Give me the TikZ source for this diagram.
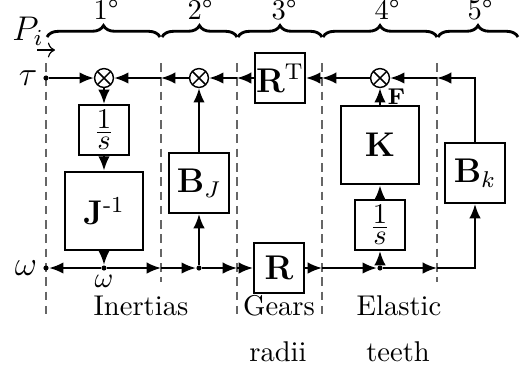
\documentclass[tikz,border=0pt]{standalone}
\usepackage{amsmath}
\usetikzlibrary{arrows.meta,decorations.pathreplacing}
\begin{document}
\begin{tikzpicture}[x=0.35pt,y=-0.35pt,
	arr/.style={line width=0.7pt,-{Latex[length=5pt,width=4pt]}},
	blk/.style={draw,line width=0.7pt,inner sep=0pt,minimum size=17.5pt},
	midblk/.style={blk,minimum size=21pt},
	bigblk/.style={blk,minimum size=27.6pt},
	sumnode/.style={draw,circle,line width=0.5pt,inner sep=0pt,minimum size=6.6pt,
		path picture={\draw[line width=0.5pt](path picture bounding box.south east)--(path picture bounding box.north west)
			(path picture bounding box.south west)--(path picture bounding box.north east);}},
	dotnode/.style={circle,fill,inner sep=0pt,minimum size=1.8pt},
	sep/.style={gray!80!black,line width=0.5pt,dash pattern=on 3pt off 2pt},
	brc/.style={decorate,decoration={brace,amplitude=4pt},line width=1pt},
	deg/.style={anchor=base,inner sep=0pt}]
	\useasboundingbox(0,0)rectangle(521,371);
	\draw[sep](46,63)--(46,318);
	\draw[sep](161,63)--(161,282);
	\draw[sep](237,63)--(237,318);
	\draw[sep](322,63)--(322,318);
	\draw[sep](437,63)--(437,282);
	\draw[brc](47,37)--(160,37);
	\draw[brc](162,37)--(237,37);
	\draw[brc](238,37)--(322,37);
	\draw[brc](323,37)--(437,37);
	\draw[brc](438,37)--(518,37);
	\node[deg](d1) at(106,19){1\textdegree};
	\node[deg](d2) at(200,19){2\textdegree};
	\node[deg](d3) at(284,19){3\textdegree};
	\node[deg](d4) at(387,19){4\textdegree};
	\node[deg](d5) at(480,19){5\textdegree};
	\node[deg](pin) at(28,40){\large$P_i$};
	\coordinate(pa) at(37,50);
	\coordinate(pb) at(55,50);
	\draw[->](pa)--(pb);
	\node(tau) at(28,78){\large$\tau$};
	\node(om) at(26,268){\large$\omega$};
	\node[dotnode](tau0) at(46,78){};
	\node[dotnode](om0) at(46,268){};
	\node[dotnode](w1) at(104,268){};
	\node[dotnode](w2) at(199,268){};
	\node[dotnode](w3) at(380,268){};
	\node(omw) at(104,281){$\omega$};
	\node[sumnode](s1) at(104,78){};
	\node[sumnode](s2) at(199,78){};
	\node[sumnode](s3) at(380,78){};
	\node[blk](int1) at(104,130){$\frac{\displaystyle 1}{\displaystyle s}$};
	\node[bigblk](jinv) at(104,211){\large$\mathbf{J}^{\text{-}1}$};
	\node[midblk](bj) at(199,183){\large$\mathbf{B}_J$};
	\node[blk](rt) at(280,78){\large$\mathbf{R}^{\mathrm{T}}$};
	\node[blk](r) at(279,268){\large$\mathbf{R}$};
	\node[bigblk](k) at(380,145){\large$\mathbf{K}$};
	\node[blk](int2) at(380,225){$\frac{\displaystyle 1}{\displaystyle s}$};
	\node[midblk](bk) at(475,173){\large$\mathbf{B}_k$};
	\coordinate(c2t) at(161,78);
	\coordinate(c3t) at(237,78);
	\coordinate(c4t) at(322,78);
	\coordinate(c5t) at(437,78);
	\coordinate(c2b) at(161,268);
	\coordinate(c3b) at(237,268);
	\coordinate(c4b) at(322,268);
	\coordinate(c5b) at(437,268);
	\draw[arr](tau0)--(s1);
	\draw[arr](c2t)--(s1);
	\draw[arr](s2)--(c2t);
	\draw[arr](c3t)--(s2);
	\draw[arr](rt)--(c3t);
	\draw[arr](c4t)--(rt);
	\draw[arr](s3)--(c4t);
	\draw[arr](c5t)--(s3);
	\draw[arr](bk)|-(c5t);
	\draw[arr](w1)--(om0);
	\draw[arr](w1)--(c2b);
	\draw[arr](c2b)--(w2);
	\draw[arr](w2)--(c3b);
	\draw[arr](c3b)--(r);
	\draw[arr](r)--(c4b);
	\draw[arr](c4b)--(w3);
	\draw[arr](w3)--(c5b);
	\draw[arr](c5b)-|(bk);
	\draw[arr](s1)--(int1);
	\draw[arr](int1)--(jinv);
	\draw[arr](jinv)--(w1);
	\draw[arr](w2)--(bj);
	\draw[arr](bj)--(s2);
	\draw[arr](w3)--(int2);
	\draw[arr](int2)--(k);
	\draw[arr](k)--node[right=-1pt,font=\footnotesize]{$\mathbf{F}$}(s3);
	\node(inr) at(141,306){Inertias};
	\node(grs) at(279,306){Gears};
	\node(rad) at(278,352){radii};
	\node(els) at(399,306){Elastic};
	\node(tth) at(398,352){teeth};
\end{tikzpicture}
\end{document}
